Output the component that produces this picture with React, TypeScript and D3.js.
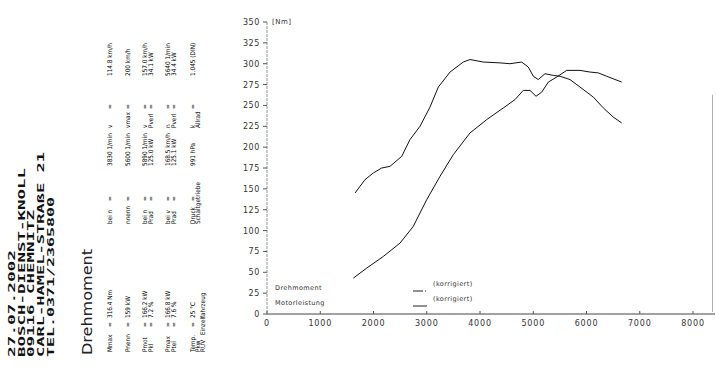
import React, { useEffect, useRef } from 'react';
import * as d3 from 'd3';

// torque curve (Nm)
const torqueRpm = [1653, 1840, 1996, 2154, 2310, 2530, 2685, 2873, 3061, 3217, 3437, 3686, 3812, 4062, 4376, 4563, 4783, 4907, 5001, 5095, 5221, 5376, 5502, 5690, 5878, 6128, 6316, 6503, 6661];
const torqueNm = [145, 161, 169, 175, 177, 189, 209, 225, 248, 272, 290, 302, 305, 302, 301, 300, 302, 296, 285, 281, 288, 286, 285, 281, 272, 260, 247, 236, 229];

// power curve, in the units of the same left axis
const powerRpm = [1621, 1872, 2184, 2498, 2747, 2999, 3249, 3499, 3812, 4126, 4438, 4657, 4813, 4939, 5052, 5159, 5283, 5440, 5628, 5878, 6066, 6222, 6379, 6661];
const powerVal = [43, 55, 69, 85, 105, 137, 165, 191, 217, 233, 247, 257, 268, 268, 261, 266, 278, 284, 292, 292, 290, 289, 285, 278];

const yTicks = d3.range(0, 351, 25);
const xTicks = d3.range(0, 8001, 1000);

const headerLines = ['27.07.2002', 'BOSCH-DIENST-KNOLL', '09116 CHEMNITZ', 'CARL-HAMEL-STRAßE 21', 'TEL.0371/2365800'];
const headerLengths = [107, 189, 147, 205, 160];

const infoRows = [
  ['Mmax', '316.4 Nm', 'bei n', '3830 1/min', 'v', '114.8 km/h'],
  ['Pnenn', '159 kW', 'nnenn', '5600 1/min', 'vmax', '200 km/h'],
  ['Pmot', '166.2 kW', 'bei n', '5890 1/min', 'v', '157.0 km/h'],
  ['Pkl', '7.2 %', 'Prad', '125.0 kW', 'Pverl', '34.1 kW'],
  ['Pmax', '166.8 kW', 'bei v', '168.5 km/h', 'n', '5640 1/min'],
  ['Ptel', '7.6 %', 'Prad', '125.1 kW', 'Pverl', '34.4 kW'],
  ['Temp.', '25 °C', 'Druck', '991 hPa', 'k', '1.045 (DIN)'],
  ['Pkw', '', 'Schaltgetriebe', '', 'Allrad', ''],
  ['RUV', 'Einzelfahrzeug', '', '', '', ''],
];

const legendNames = ['Drehmoment', 'Motorleistung'];

const App = () => {
  const width = 716,
    height = 368;
  const svgRef = useRef(null);

  useEffect(() => {
    const svg = d3.select(svgRef.current);
    svg.selectAll('*').remove();

    const x = d3.scaleLinear().domain([0, 8000]).range([267, 693]);
    const y = d3.scaleLinear().domain([0, 350]).range([314, 22]);

    // ---- rotated header block on the left
    const rot = svg.append('g').attr('transform', 'rotate(-90)');
    const headerX = [15, 24.5, 34, 44, 53.5];
    rot.append('g')
      .attr('font-family', "'DejaVu Sans Mono', monospace")
      .attr('font-weight', 'bold')
      .attr('font-size', 9.5)
      .attr('fill', '#111')
      .selectAll('text')
      .data(headerLines)
      .join('text')
      .attr('x', -357)
      .attr('y', (d, i) => headerX[i])
      .attr('textLength', (d, i) => headerLengths[i])
      .attr('lengthAdjust', 'spacingAndGlyphs')
      .text(d => d);

    rot.append('text')
      .attr('x', -355)
      .attr('y', 92)
      .attr('font-family', "'DejaVu Sans', sans-serif")
      .attr('font-size', 14)
      .attr('fill', '#222')
      .attr('textLength', 106)
      .attr('lengthAdjust', 'spacingAndGlyphs')
      .text('Drehmoment');

    const rowX = [112, 129.5, 147, 152.5, 170, 175.5, 194.5, 199.5, 204.5];
    const labelPos = [352, 224, 128];
    const eqPos = [327, 201, 109];
    const valPos = [318, 166, 76];
    const info = rot.append('g')
      .attr('font-family', "'Liberation Sans Narrow', 'DejaVu Sans Condensed', 'DejaVu Sans', sans-serif")
      .attr('font-stretch', 'condensed')
      .attr('font-size', 6.4)
      .attr('fill', '#000');
    infoRows.forEach((row, r) => {
      [0, 1, 2].forEach(s => {
        const label = row[s * 2], value = row[s * 2 + 1];
        if (label) info.append('text').attr('x', -labelPos[s]).attr('y', rowX[r]).text(label);
        if (value && r < 8) {
          info.append('text').attr('x', -eqPos[s]).attr('y', rowX[r]).text('=');
        }
        if (value) {
          info.append('text').attr('x', -(r === 8 ? 335 : valPos[s])).attr('y', rowX[r]).text(value);
        }
      });
    });

    // ---- axes
    const axisG = svg.append('g')
      .attr('font-family', "'DejaVu Sans', sans-serif")
      .attr('fill', '#333');

    axisG.append('line')
      .attr('x1', x(0)).attr('x2', x(0))
      .attr('y1', y(350)).attr('y2', y(0))
      .attr('stroke', '#777')
      .attr('stroke-width', 0.8)
      .attr('stroke-dasharray', '3,1');

    axisG.selectAll('.ytick')
      .data(yTicks)
      .join('line')
      .attr('class', 'ytick')
      .attr('x1', x(0) - 4).attr('x2', x(0))
      .attr('y1', d => y(d)).attr('y2', d => y(d))
      .attr('stroke', '#555');

    axisG.selectAll('.ylab')
      .data(yTicks)
      .join('text')
      .attr('class', 'ylab')
      .attr('x', x(0) - 7)
      .attr('y', d => y(d) + 3)
      .attr('text-anchor', 'end')
      .attr('font-size', 8)
      .attr('letter-spacing', 0.6)
      .text(d => d);

    axisG.append('text')
      .attr('x', 272).attr('y', 24)
      .attr('font-size', 7)
      .attr('letter-spacing', 0.5)
      .text('[Nm]');

    axisG.append('line')
      .attr('x1', x(0)).attr('x2', 715)
      .attr('y1', y(0)).attr('y2', y(0))
      .attr('stroke', '#444')
      .attr('stroke-width', 1);

    axisG.selectAll('.xtick')
      .data(xTicks)
      .join('line')
      .attr('class', 'xtick')
      .attr('x1', d => x(d)).attr('x2', d => x(d))
      .attr('y1', y(0) - 3).attr('y2', y(0))
      .attr('stroke', '#555');

    axisG.selectAll('.xlab')
      .data(xTicks)
      .join('text')
      .attr('class', 'xlab')
      .attr('x', d => x(d))
      .attr('y', y(0) + 12)
      .attr('text-anchor', 'middle')
      .attr('font-size', 8)
      .attr('letter-spacing', 0.8)
      .text(d => d);

    // faint scan edge on the right
    svg.append('line')
      .attr('x1', 712.5).attr('x2', 712.5)
      .attr('y1', 95).attr('y2', 312)
      .attr('stroke', '#999')
      .attr('stroke-width', 0.8);

    // ---- curves
    const line = d3.line().curve(d3.curveLinear);
    svg.append('path')
      .attr('d', line(torqueRpm.map((r, i) => [x(r), y(torqueNm[i])])))
      .attr('fill', 'none')
      .attr('stroke', '#111')
      .attr('stroke-width', 1);
    svg.append('path')
      .attr('d', line(powerRpm.map((r, i) => [x(r), y(powerVal[i])])))
      .attr('fill', 'none')
      .attr('stroke', '#111')
      .attr('stroke-width', 1);

    // ---- legend
    const leg = svg.append('g')
      .attr('font-family', "'DejaVu Sans', sans-serif")
      .attr('font-size', 6.5)
      .attr('fill', '#333')
      .attr('letter-spacing', 0.4);
    legendNames.forEach((name, i) => {
      const yy = 290 + i * 15;
      leg.append('text').attr('x', 275).attr('y', yy).text(name);
      leg.append('line')
        .attr('x1', 413).attr('x2', 427)
        .attr('y1', yy + 1).attr('y2', yy + 1)
        .attr('stroke', '#222')
        .attr('stroke-dasharray', i === 0 ? '10,2,1,2' : null);
      leg.append('text').attr('x', 433).attr('y', yy - 4).text('(korrigiert)');
    });
  }, []);

  return (
    <svg ref={svgRef} width={width} height={height}
      style={{ position: 'absolute', left: 0, top: 0, background: '#fff' }}></svg>
  );
};

export default App;
